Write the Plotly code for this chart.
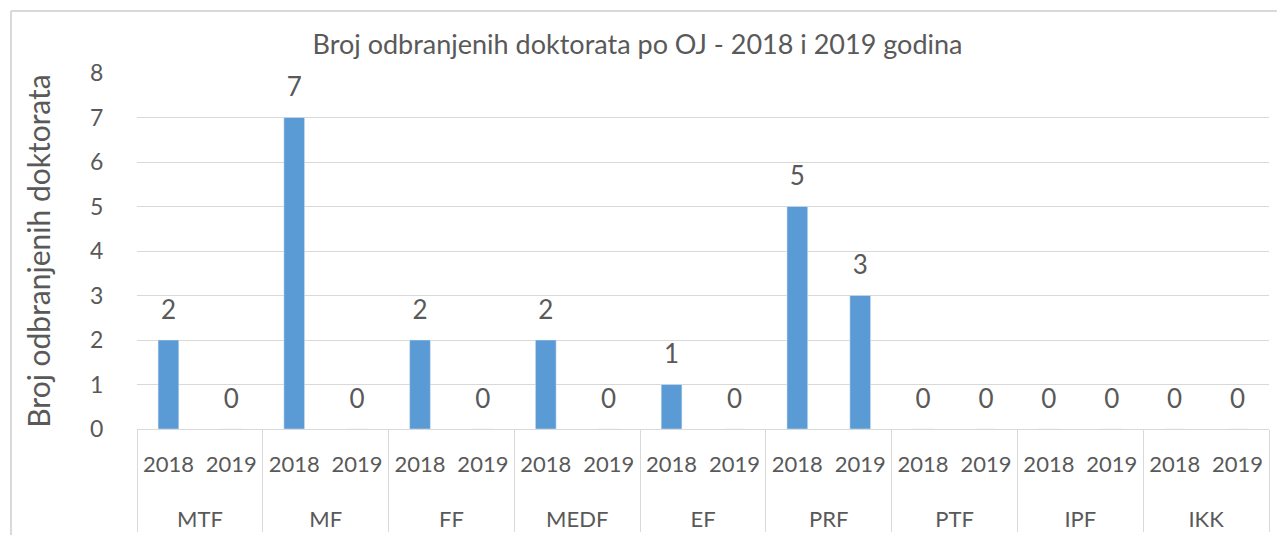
import plotly.graph_objects as go

groups = ["MTF", "MF", "FF", "MEDF", "EF", "PRF", "PTF", "IPF", "IKK"]
years = ["2018", "2019"]
values_2018 = [2, 7, 2, 2, 1, 5, 0, 0, 0]
values_2019 = [0, 0, 0, 0, 0, 3, 0, 0, 0]
y_ticks = [0, 1, 2, 3, 4, 5, 6, 7, 8]

LBL = "<span style='font-size:22px'>{}</span>"
x_groups, x_years, vals = [], [], []
for g, a, b in zip(groups, values_2018, values_2019):
    # leading line break pushes the group row lower, as in the original
    x_groups += ["<br>" + LBL.format(g)] * 2
    x_years += [LBL.format(y) for y in years]
    vals += [a, b]

FONT = "Lato"
GRAY = "#595959"
GRID = "#D9D9D9"
BAR = "#5B9BD5"

fig = go.Figure()
fig.add_trace(go.Bar(x=[x_groups, x_years], y=vals, marker_color=BAR,
                     hoverinfo="y"))
fig.add_trace(go.Scatter(x=[x_groups, x_years], y=vals, mode="markers+text",
                         text=[str(v) for v in vals], textposition="top center",
                         marker=dict(size=22, color="rgba(0,0,0,0)"),
                         textfont=dict(family=FONT, size=26, color=GRAY),
                         hoverinfo="skip", cliponaxis=False))

# page body has an 8px margin; figure coords = screen coords - 8
OFF = 8
W, H = 1285 - 2 * OFF, 543 - 2 * OFF
L, T = 137 - OFF, 73 - OFF
R = W - (1269 - OFF)
B = H - (429 - OFF)
pw, ph = W - L - R, H - T - B
bx = (11 - OFF - L) / pw
by = 1 + (T - (11 - OFF)) / ph

fig.update_layout(
    width=W, height=H,
    margin=dict(l=L, r=R, t=T, b=B),
    paper_bgcolor="white", plot_bgcolor="white",
    showlegend=False,
    bargap=0.67,
    title=dict(text="Broj odbranjenih doktorata po OJ - 2018 i 2019 godina",
               x=((310 + 965) / 2 - OFF) / W, xanchor="center",
               y=1 - (45 - OFF) / H, yanchor="middle",
               font=dict(family=FONT, size=27, color=GRAY)),
    font=dict(family=FONT, color=GRAY),
    shapes=[
        dict(type="line", xref="paper", yref="paper", x0=bx, x1=bx, y0=-0.6, y1=by,
             line=dict(color=GRID, width=2), layer="below"),
        dict(type="line", xref="paper", yref="paper", x0=bx, x1=1.05, y0=by, y1=by,
             line=dict(color=GRID, width=2), layer="below"),
    ],
)
fig.update_xaxes(type="multicategory", range=[-0.5, len(vals) - 0.5], autorange=False,
                 automargin=False,
                 showgrid=False, showline=True, linecolor=GRID,
                 linewidth=1, tickangle=0, showdividers=True, dividercolor=GRID,
                 dividerwidth=1, tickfont=dict(family=FONT, size=27, color=GRAY),
                 ticklabelstandoff=10, fixedrange=True)
fig.update_yaxes(range=[0, 8], tickvals=y_ticks, showgrid=True, gridcolor=GRID,
                 gridwidth=1, zeroline=False, showline=False, automargin=False,
                 tickfont=dict(family=FONT, size=23, color=GRAY),
                 ticks="outside", ticklen=28, tickcolor="rgba(0,0,0,0)",
                 title=dict(text="Broj odbranjenih doktorata", standoff=30,
                            font=dict(family=FONT, size=30, color=GRAY)))

fig.write_html("out.html")
